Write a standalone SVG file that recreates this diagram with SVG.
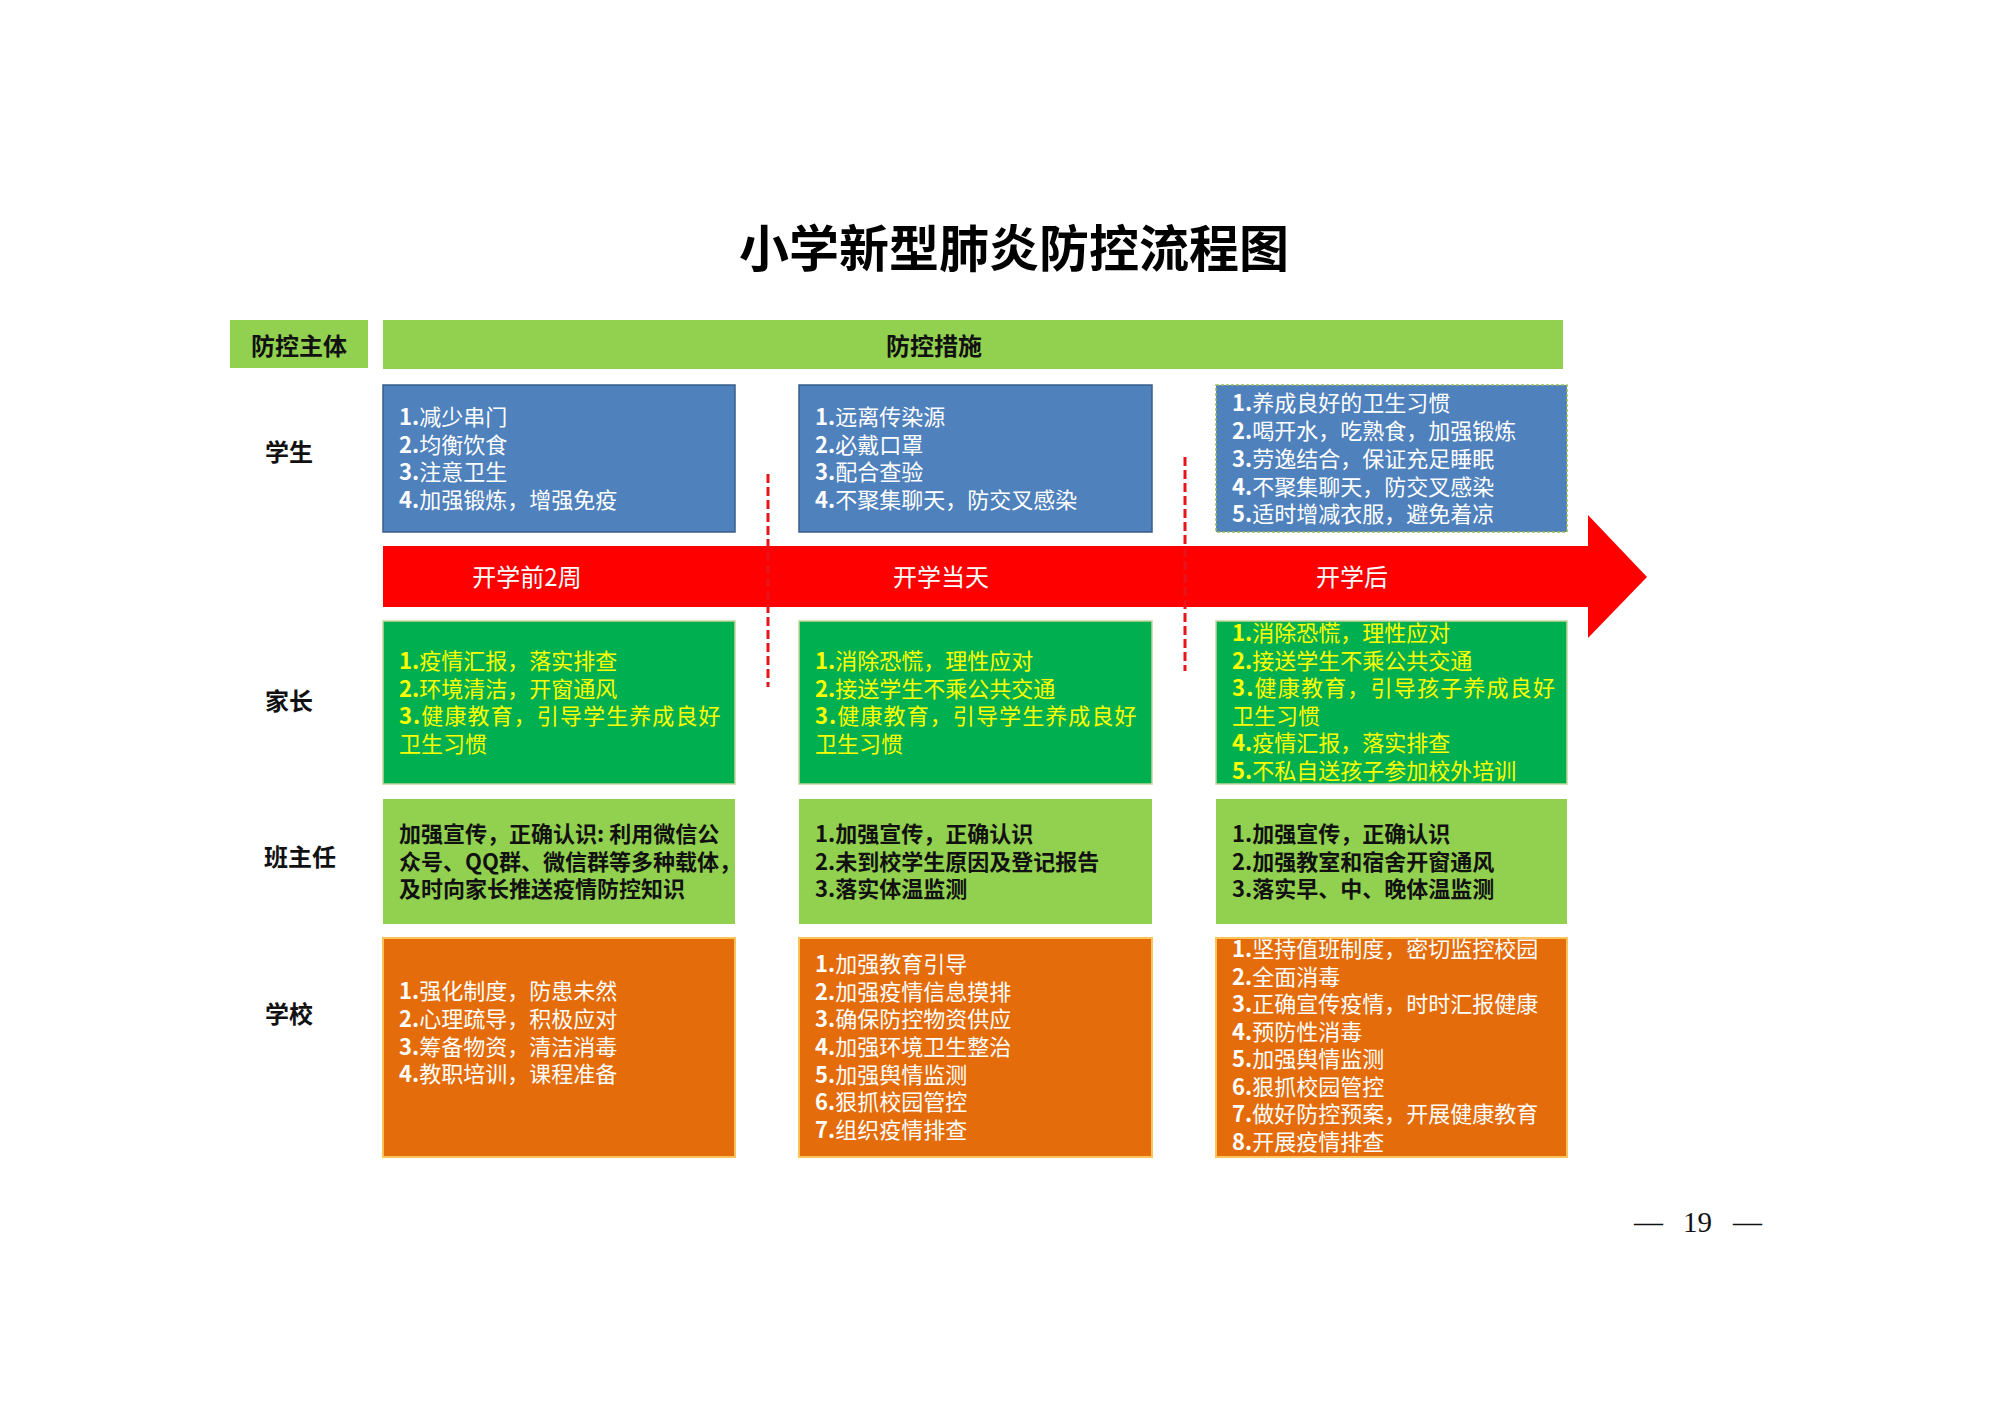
<svg xmlns="http://www.w3.org/2000/svg" width="2000" height="1413" viewBox="0 0 2000 1413">
<style>
text { font-family: "Noto Sans CJK SC", "Noto Sans", sans-serif; }
.title { font-size: 50px; font-weight: 700; fill: #000; text-anchor: middle; }
.hd { font-size: 24px; font-weight: 700; fill: #111; text-anchor: middle; }
.lbl { font-size: 24px; font-weight: 700; fill: #111; }
.al { font-size: 24px; fill: #fff; text-anchor: middle; }
.b { font-size: 22px; }
.w { fill: #fff; }
.y { fill: #ffff00; }
.k { fill: #111; font-weight: 700; }
.n { font-weight: 700; }
.blue { fill: #4f81bd; stroke: #385d8a; stroke-width: 1.5; }
.blue3 { fill: #4f81bd; stroke: #9bbb59; stroke-width: 1.5; stroke-dasharray: 3 2; }
.dg { fill: #00b050; stroke: #c3d69b; stroke-width: 1.5; }
.lg { fill: #92d050; }
.or { fill: #e46c0a; stroke: #fcc35a; stroke-width: 2; }
.dash { stroke: #e8141b; stroke-width: 3; stroke-dasharray: 9 4; fill: none; }
.pg { font-family: "Liberation Serif", serif; font-size: 29px; fill: #111; }
</style>

<text class="title" x="1014" y="267">小学新型肺炎防控流程图</text>

<g id="header-subject">
<rect class="lg" x="230" y="320" width="138" height="48"/>
<text class="hd" x="299" y="355">防控主体</text>
</g>
<g id="header-measures">
<rect class="lg" x="383" y="320" width="1180" height="49"/>
<text class="hd" x="934" y="355">防控措施</text>
</g>

<g id="label-student"><text class="lbl" x="265" y="461">学生</text></g>
<g id="label-parent"><text class="lbl" x="265" y="710">家长</text></g>
<g id="label-teacher"><text class="lbl" x="264" y="866">班主任</text></g>
<g id="label-school"><text class="lbl" x="265" y="1023">学校</text></g>

<g id="timeline">
<path d="M383 546 H1588 V515 L1647 577 L1588 638 V607 H383 Z" fill="#ff0000"/>
<text class="al" x="527" y="586">开学前2周</text>
<text class="al" x="941" y="586">开学当天</text>
<text class="al" x="1352" y="586">开学后</text>
</g>

<g id="connectors">
<line class="dash" x1="768" y1="474" x2="768" y2="687"/>
<line class="dash" x1="1185" y1="457" x2="1185" y2="671"/>
</g>

<g id="student-before">
<rect class="blue" x="383" y="385" width="352" height="147"/>
<text class="b w">
<tspan x="399" y="425"><tspan class="n">1.</tspan>减少串门</tspan>
<tspan x="399" y="453"><tspan class="n">2.</tspan>均衡饮食</tspan>
<tspan x="399" y="480"><tspan class="n">3.</tspan>注意卫生</tspan>
<tspan x="399" y="508"><tspan class="n">4.</tspan>加强锻炼，增强免疫</tspan>
</text>
</g>
<g id="student-day">
<rect class="blue" x="799" y="385" width="353" height="147"/>
<text class="b w">
<tspan x="815" y="425"><tspan class="n">1.</tspan>远离传染源</tspan>
<tspan x="815" y="453"><tspan class="n">2.</tspan>必戴口罩</tspan>
<tspan x="815" y="480"><tspan class="n">3.</tspan>配合查验</tspan>
<tspan x="815" y="508"><tspan class="n">4.</tspan>不聚集聊天，防交叉感染</tspan>
</text>
</g>
<g id="student-after">
<rect class="blue3" x="1216" y="385" width="351" height="147"/>
<text class="b w">
<tspan x="1232" y="411"><tspan class="n">1.</tspan>养成良好的卫生习惯</tspan>
<tspan x="1232" y="439"><tspan class="n">2.</tspan>喝开水，吃熟食，加强锻炼</tspan>
<tspan x="1232" y="467"><tspan class="n">3.</tspan>劳逸结合，保证充足睡眠</tspan>
<tspan x="1232" y="495"><tspan class="n">4.</tspan>不聚集聊天，防交叉感染</tspan>
<tspan x="1232" y="522"><tspan class="n">5.</tspan>适时增减衣服，避免着凉</tspan>
</text>
</g>

<g id="parent-before">
<rect class="dg" x="383" y="621" width="352" height="163"/>
<text class="b y">
<tspan x="399" y="669"><tspan class="n">1.</tspan>疫情汇报，落实排查</tspan>
<tspan x="399" y="696.5"><tspan class="n">2.</tspan>环境清洁，开窗通风</tspan>
<tspan x="399" y="724" letter-spacing="1.1"><tspan class="n">3.</tspan>健康教育，引导学生养成良好</tspan>
<tspan x="399" y="751.5">卫生习惯</tspan>
</text>
</g>
<g id="parent-day">
<rect class="dg" x="799" y="621" width="353" height="163"/>
<text class="b y">
<tspan x="815" y="669"><tspan class="n">1.</tspan>消除恐慌，理性应对</tspan>
<tspan x="815" y="696.5"><tspan class="n">2.</tspan>接送学生不乘公共交通</tspan>
<tspan x="815" y="724" letter-spacing="1.1"><tspan class="n">3.</tspan>健康教育，引导学生养成良好</tspan>
<tspan x="815" y="751.5">卫生习惯</tspan>
</text>
</g>
<g id="parent-after">
<rect class="dg" x="1216" y="621" width="351" height="163"/>
<text class="b y">
<tspan x="1232" y="641"><tspan class="n">1.</tspan>消除恐慌，理性应对</tspan>
<tspan x="1232" y="668.5"><tspan class="n">2.</tspan>接送学生不乘公共交通</tspan>
<tspan x="1232" y="696" letter-spacing="1.2"><tspan class="n">3.</tspan>健康教育，引导孩子养成良好</tspan>
<tspan x="1232" y="723.5">卫生习惯</tspan>
<tspan x="1232" y="751"><tspan class="n">4.</tspan>疫情汇报，落实排查</tspan>
<tspan x="1232" y="778.5"><tspan class="n">5.</tspan>不私自送孩子参加校外培训</tspan>
</text>
</g>

<g id="teacher-before">
<rect class="lg" x="383" y="799" width="352" height="125"/>
<text class="b k">
<tspan x="399" y="842">加强宣传，正确认识: 利用微信公</tspan>
<tspan x="399" y="870">众号、QQ群、微信群等多种载体，</tspan>
<tspan x="399" y="897">及时向家长推送疫情防控知识</tspan>
</text>
</g>
<g id="teacher-day">
<rect class="lg" x="799" y="799" width="353" height="125"/>
<text class="b k">
<tspan x="815" y="842">1.加强宣传，正确认识</tspan>
<tspan x="815" y="870">2.未到校学生原因及登记报告</tspan>
<tspan x="815" y="897">3.落实体温监测</tspan>
</text>
</g>
<g id="teacher-after">
<rect class="lg" x="1216" y="799" width="351" height="125"/>
<text class="b k">
<tspan x="1232" y="842">1.加强宣传，正确认识</tspan>
<tspan x="1232" y="870">2.加强教室和宿舍开窗通风</tspan>
<tspan x="1232" y="897">3.落实早、中、晚体温监测</tspan>
</text>
</g>

<g id="school-before">
<rect class="or" x="383" y="938" width="352" height="219"/>
<text class="b w">
<tspan x="399" y="999"><tspan class="n">1.</tspan>强化制度，防患未然</tspan>
<tspan x="399" y="1027"><tspan class="n">2.</tspan>心理疏导，积极应对</tspan>
<tspan x="399" y="1055"><tspan class="n">3.</tspan>筹备物资，清洁消毒</tspan>
<tspan x="399" y="1082"><tspan class="n">4.</tspan>教职培训，课程准备</tspan>
</text>
</g>
<g id="school-day">
<rect class="or" x="799" y="938" width="353" height="219"/>
<text class="b w">
<tspan x="815" y="972"><tspan class="n">1.</tspan>加强教育引导</tspan>
<tspan x="815" y="999.6"><tspan class="n">2.</tspan>加强疫情信息摸排</tspan>
<tspan x="815" y="1027"><tspan class="n">3.</tspan>确保防控物资供应</tspan>
<tspan x="815" y="1055"><tspan class="n">4.</tspan>加强环境卫生整治</tspan>
<tspan x="815" y="1082.5"><tspan class="n">5.</tspan>加强舆情监测</tspan>
<tspan x="815" y="1110"><tspan class="n">6.</tspan>狠抓校园管控</tspan>
<tspan x="815" y="1137.6"><tspan class="n">7.</tspan>组织疫情排查</tspan>
</text>
</g>
<g id="school-after">
<rect class="or" x="1216" y="938" width="351" height="219"/>
<text class="b w">
<tspan x="1232" y="957"><tspan class="n">1.</tspan>坚持值班制度，密切监控校园</tspan>
<tspan x="1232" y="984.6"><tspan class="n">2.</tspan>全面消毒</tspan>
<tspan x="1232" y="1012"><tspan class="n">3.</tspan>正确宣传疫情，时时汇报健康</tspan>
<tspan x="1232" y="1040"><tspan class="n">4.</tspan>预防性消毒</tspan>
<tspan x="1232" y="1067"><tspan class="n">5.</tspan>加强舆情监测</tspan>
<tspan x="1232" y="1095"><tspan class="n">6.</tspan>狠抓校园管控</tspan>
<tspan x="1232" y="1122"><tspan class="n">7.</tspan>做好防控预案，开展健康教育</tspan>
<tspan x="1232" y="1150"><tspan class="n">8.</tspan>开展疫情排查</tspan>
</text>
</g>

<text class="pg" y="1232"><tspan x="1634">—</tspan><tspan x="1683">19</tspan><tspan x="1733">—</tspan></text>
</svg>
